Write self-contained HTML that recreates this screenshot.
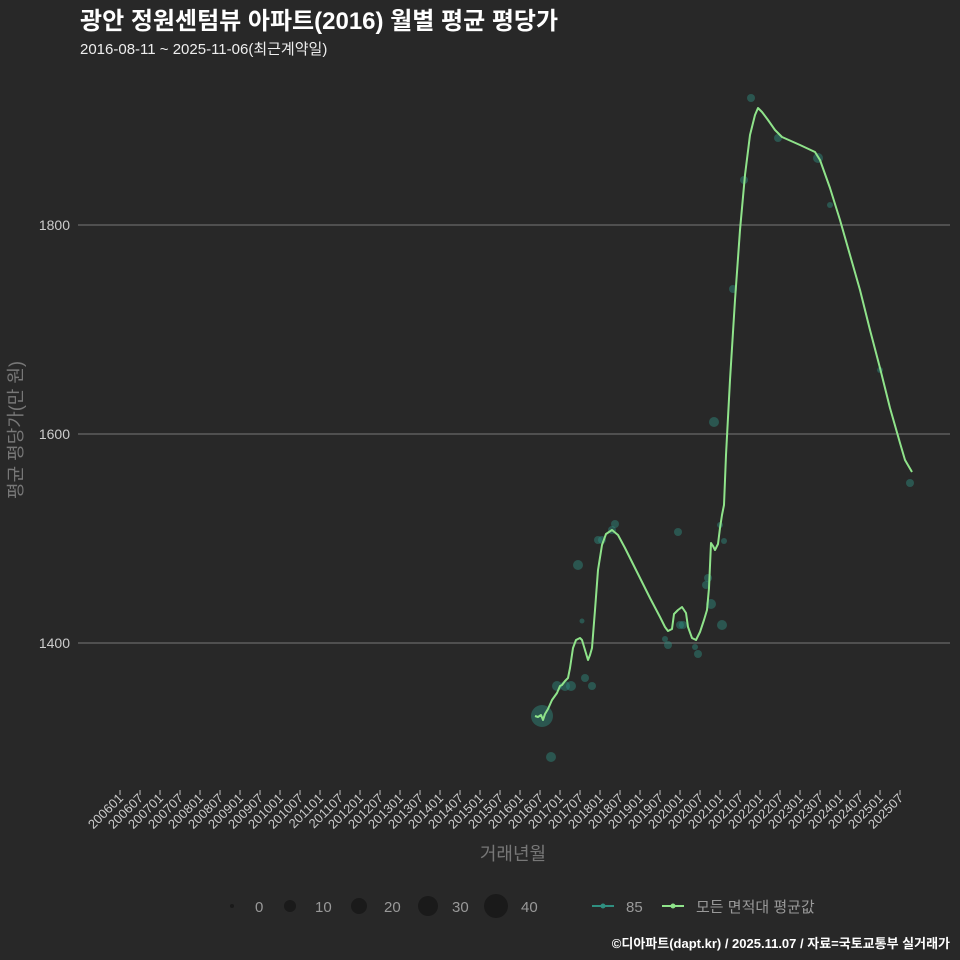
<!DOCTYPE html>
<html><head><meta charset="utf-8"><style>
html,body{margin:0;width:960px;height:960px;overflow:hidden;background:#282828;}
svg{display:block}
svg text{font-family:"Liberation Sans","Noto Sans CJK KR",sans-serif;}
</style></head><body>
<svg width="960" height="960" xmlns="http://www.w3.org/2000/svg">
<rect width="960" height="960" fill="#282828"/>
<text x="80" y="29" fill="#fff" font-size="24" font-weight="bold">광안 정원센텀뷰 아파트(2016) 월별 평균 평당가</text>
<text x="80" y="54" fill="#eee" font-size="15">2016-08-11 ~ 2025-11-06(최근계약일)</text>
<g stroke="#777" stroke-width="1">
<line x1="78" x2="950" y1="225" y2="225"/><line x1="78" x2="950" y1="434" y2="434"/><line x1="78" x2="950" y1="643" y2="643"/>
</g>
<g fill="#ccc" font-size="14" text-anchor="end">
<text x="70" y="230">1800</text><text x="70" y="439">1600</text><text x="70" y="648">1400</text>
</g>
<text transform="translate(22,430) rotate(-90)" fill="#777" font-size="18" text-anchor="middle">평균 평당가(만 원)</text>
<g id="ticks" stroke="#bbb" stroke-width="1"></g>
<g id="labs" fill="#ccc" font-size="13"></g>
<text x="513" y="860" fill="#777" font-size="18" text-anchor="middle">거래년월</text>
<g fill="#2f8f80" fill-opacity="0.45">
<circle cx="542" cy="716" r="11"/><circle cx="551" cy="757" r="5"/><circle cx="557" cy="686" r="5"/><circle cx="565" cy="686" r="5"/><circle cx="571" cy="686" r="5"/>
<circle cx="578" cy="565" r="5"/><circle cx="582" cy="621" r="2.5"/><circle cx="585" cy="678" r="4"/><circle cx="592" cy="686" r="4"/><circle cx="598" cy="540" r="4"/>
<circle cx="615" cy="524" r="4"/><circle cx="612" cy="530" r="4"/><circle cx="602" cy="540" r="4"/><circle cx="665" cy="639" r="3"/><circle cx="668" cy="645" r="4"/>
<circle cx="678" cy="532" r="4"/><circle cx="680" cy="625" r="4"/><circle cx="683" cy="625" r="4"/><circle cx="695" cy="647" r="3"/><circle cx="698" cy="654" r="4"/>
<circle cx="711" cy="604" r="5"/><circle cx="714" cy="422" r="5"/><circle cx="722" cy="625" r="5"/><circle cx="724" cy="541" r="3"/><circle cx="706" cy="585" r="4"/>
<circle cx="708" cy="578" r="4"/><circle cx="720" cy="525" r="3"/><circle cx="733" cy="289" r="4"/><circle cx="744" cy="180" r="4"/><circle cx="751" cy="98" r="4"/>
<circle cx="778" cy="138" r="4"/><circle cx="818" cy="158" r="5"/><circle cx="910" cy="483" r="4"/><circle cx="830" cy="205" r="3"/><circle cx="880" cy="370" r="3"/>
</g>
<polyline fill="none" stroke="#8fe38a" stroke-width="2" stroke-linejoin="round" points="535,716 538,717 541,715 543,720 545,714 548,709 552,700 557,693 560,686 562,685 565,681 568,678 570,668 573,648 576,640 580,638 582,640 585,650 588,660 590,655 592,648 595,610 598,570 602,545 606,534 612,530 618,535 625,548 635,568 650,598 660,617 665,627 668,631 672,629 674,614 678,610 682,607 686,613 688,627 692,638 696,640 700,632 704,620 707,610 709,588 711,543 713,546 715,550 718,544 720,528 722,515 724,505 726,455 730,380 735,300 740,230 745,175 750,135 755,115 758,108 762,112 768,120 775,130 782,137 800,145 815,152 820,160 830,188 840,220 850,255 860,290 870,330 880,368 890,408 900,443 905,460 912,472"/>
<g fill="#1a1a1a">
<circle cx="232" cy="906" r="2"/><circle cx="290" cy="906" r="6"/><circle cx="359" cy="906" r="8"/><circle cx="428" cy="906" r="10"/><circle cx="496" cy="906" r="12"/>
</g>
<g fill="#999" font-size="15">
<text x="255" y="912">0</text><text x="315" y="912">10</text><text x="384" y="912">20</text><text x="452" y="912">30</text><text x="521" y="912">40</text>
<text x="626" y="912">85</text><text x="696" y="912">모든 면적대 평균값</text>
</g>
<line x1="592" x2="614" y1="906" y2="906" stroke="#2f8f80" stroke-width="2"/><circle cx="603" cy="906" r="2.5" fill="#2f8f80"/>
<line x1="662" x2="684" y1="906" y2="906" stroke="#8fe38a" stroke-width="2"/><circle cx="673" cy="906" r="2.5" fill="#8fe38a"/>
<text x="950" y="948" fill="#fff" font-size="13" font-weight="bold" text-anchor="end">©디아파트(dapt.kr) / 2025.11.07 / 자료=국토교통부 실거래가</text>
</svg>
<script>
var t=document.getElementById('ticks'),l=document.getElementById('labs'),ns='http://www.w3.org/2000/svg';
for(var i=0;i<40;i++){var x=120+i*20,y=2006+Math.floor(i/2),m=i%2?'07':'01';
var ln=document.createElementNS(ns,'line');ln.setAttribute('x1',x);ln.setAttribute('x2',x);ln.setAttribute('y1',790);ln.setAttribute('y2',795);t.appendChild(ln);
var tx=document.createElementNS(ns,'text');tx.setAttribute('transform','translate('+(x+4)+',799) rotate(-45)');tx.setAttribute('text-anchor','end');tx.textContent=y+m;l.appendChild(tx);}
</script>
</body></html>
